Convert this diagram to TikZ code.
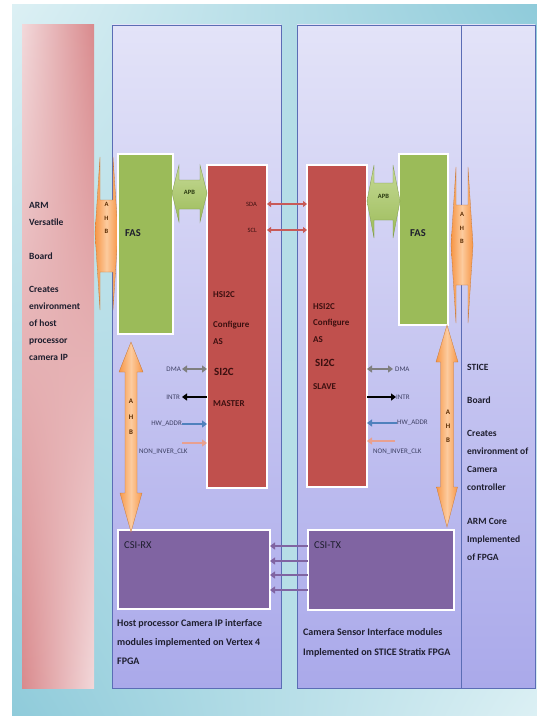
\documentclass[tikz,border=0pt]{standalone}
\usepackage{fontspec}
\setmainfont{Carlito}
\usetikzlibrary{arrows.meta,positioning,calc,shadings}
\definecolor{cyanlight}{HTML}{DCF0F4}
\definecolor{cyandark}{HTML}{8FCBDA}
\definecolor{pinklight}{HTML}{F2D8DA}
\definecolor{pinkdark}{HTML}{D98A8D}
\definecolor{paneltop}{HTML}{E3E3F8}
\definecolor{panelbottom}{HTML}{AAA9EA}
\definecolor{panelline}{HTML}{5B6DB5}
\definecolor{fasgreen}{HTML}{9BBB59}
\definecolor{i2cred}{HTML}{C0504D}
\definecolor{csipurple}{HTML}{8064A2}
\definecolor{ahborange}{HTML}{F79646}
\definecolor{ahblight}{HTML}{FCCB9E}
\definecolor{apblight}{HTML}{C6DA96}
\definecolor{inktext}{HTML}{1E1E2E}
\definecolor{i2cink}{HTML}{3C1010}
\definecolor{ahbink}{HTML}{5A2A00}
\definecolor{apbink}{HTML}{2A3A10}
\definecolor{siggray}{HTML}{7F7F7F}
\definecolor{sigblue}{HTML}{4F81BD}
\definecolor{sigpink}{HTML}{E8A090}
\definecolor{sdared}{HTML}{C85A58}
\definecolor{labelgray}{HTML}{3E4064}
\begin{document}
\begin{tikzpicture}[x=1pt,y=-1pt,
  >={Triangle[length=5pt,width=7pt]},
  panel/.style={draw=panelline,line width=0.8pt,top color=paneltop,bottom color=panelbottom},
  block/.style={draw=white,line width=2pt,inner sep=0pt,outer sep=0pt},
  fasbox/.style={block,fill=fasgreen},
  i2cbox/.style={block,fill=i2cred},
  csibox/.style={block,fill=csipurple},
  boardtext/.style={anchor=north west,inner sep=0pt,align=left,text=inktext,
    font=\bfseries\fontsize{9.5}{17}\selectfont},
  captext/.style={anchor=north west,inner sep=0pt,align=left,text=inktext,
    font=\bfseries\fontsize{10}{19}\selectfont},
  i2ctext/.style={anchor=west,inner sep=0pt,text=i2cink,font=\bfseries\fontsize{9}{10}\selectfont},
  fastext/.style={anchor=west,inner sep=0pt,text=inktext,font=\bfseries\fontsize{10.5}{12}\selectfont},
  csitext/.style={anchor=west,inner sep=0pt,text=inktext,font=\fontsize{10.5}{12}\selectfont},
  siglabel/.style={inner sep=0pt,text=labelgray,font=\fontsize{7}{8}\selectfont},
  buslabel/.style={inner sep=0pt,align=center,font=\bfseries\fontsize{6.5}{13.5}\selectfont},
  ahbarrow/.style={left color=ahborange,right color=ahborange,middle color=ahblight,
    draw=ahborange!80!black,line width=0.3pt},
  apbarrow/.style={top color=apblight,bottom color=fasgreen,draw=fasgreen!80!black,line width=0.3pt},
  sigline/.style={line width=2pt},
  dmaarr/.style={sigline,<->,siggray},
  intrarr/.style={sigline,->,black},
  addrarr/.style={sigline,->,sigblue},
  clkarr/.style={sigline,->,sigpink},
  sdaarr/.style={<->,line width=1.5pt,sdared,>={Triangle[length=4pt,width=6pt]}},
  csiarr/.style={->,line width=2.5pt,csipurple}
]
\useasboundingbox (0,0) rectangle (537,717);
% background and boards
\shade[upper left=cyanlight,upper right=cyandark,lower left=cyandark,lower right=cyanlight]
  (12,5) rectangle (537,715);
\shade[upper left=pinklight,upper right=pinkdark,lower left=pinkdark,lower right=pinklight]
  (22,25) rectangle (94,688);
\path[panel] (112,25) rectangle (281,688);
\path[panel] (297,25) rectangle (535,688);
\draw[panelline,line width=0.8pt] (461,25) -- (461,688);

% AHB links to the boards
\path[ahbarrow] (95,233) -- (100,157) -- (100,200) -- (113,200) -- (113,157) -- (118,233)
  -- (113,310) -- (113,272) -- (100,272) -- (100,310) -- cycle;
\node[buslabel,text=ahbink] (ahbL) at (106.5,218) {A\\H\\B};
\path[ahbarrow] (451,245) -- (456,167) -- (456,205) -- (468,205) -- (468,167) -- (473,245)
  -- (468,323) -- (468,285) -- (456,285) -- (456,323) -- cycle;
\node[buslabel,text=ahbink] (ahbR) at (462,228) {A\\H\\B};

% blocks
\node[fasbox,minimum width=55,minimum height=180] (fasL) at (145.5,244) {};
\node[i2cbox,minimum width=60,minimum height=323] (master) at (237,326.5) {};
\node[i2cbox,minimum width=60,minimum height=322] (slave) at (337,326) {};
\node[fasbox,minimum width=49,minimum height=171] (fasR) at (423.5,239.5) {};
\node[csibox,minimum width=152,minimum height=79] (csirx) at (194,569.5) {};
\node[csibox,minimum width=146,minimum height=80] (csitx) at (381,570) {};

\node[fastext] (fasLt) at (125,233) {FAS};
\node[fastext] (fasRt) at (410,233) {FAS};
\node[csitext] (csirxt) at (124,545) {CSI-RX};
\node[csitext] (csitxt) at (314,545) {CSI-TX};

\node[i2ctext] (mHsi) at (213,295) {HSI2C};
\node[i2ctext] (mCfg) at (213,325) {Configure};
\node[i2ctext] (mAs) at (213,342) {AS};
\node[i2ctext,font=\bfseries\fontsize{11}{12}\selectfont] (mSi) at (214,372) {SI2C};
\node[i2ctext] (mRole) at (213,404) {MASTER};
\node[i2ctext] (sHsi) at (313,307) {HSI2C};
\node[i2ctext] (sCfg) at (313,323) {Configure};
\node[i2ctext] (sAs) at (313,340) {AS};
\node[i2ctext,font=\bfseries\fontsize{11}{12}\selectfont] (sSi) at (315,363) {SI2C};
\node[i2ctext] (sRole) at (313,387) {SLAVE};

% APB links
\path[apbarrow] (172,193) -- (179,165) -- (179,180) -- (200,180) -- (200,165) -- (207,193)
  -- (200,222) -- (200,209) -- (179,209) -- (179,222) -- cycle;
\node[buslabel,text=apbink] (apbL) at (189.5,192) {APB};
\path[apbarrow] (367,201) -- (374,165) -- (374,183) -- (393,183) -- (393,165) -- (400,201)
  -- (393,238) -- (393,220) -- (374,220) -- (374,238) -- cycle;
\node[buslabel,text=apbink] (apbR) at (383.5,196) {APB};

% I2C bus
\node[siglabel,anchor=east,text=i2cink,font=\fontsize{6.5}{8}\selectfont] (sda) at (257,204) {SDA};
\node[siglabel,anchor=east,text=i2cink,font=\fontsize{6.5}{8}\selectfont] (scl) at (257,230) {SCL};
\draw[sdaarr] (master.east |- sda) -- (slave.west |- sda);
\draw[sdaarr] (master.east |- scl) -- (slave.west |- scl);

% master side signals
\node[siglabel,anchor=east] (dmaL) at (181,369) {DMA};
\node[siglabel,anchor=east] (intrL) at (180,397) {INTR};
\node[siglabel,anchor=east] (addrL) at (182,424) {HW\_ADDR};
\node[siglabel,anchor=west] (clkL) at (139,452) {NON\_INVER\_CLK};
\coordinate (clkLs) at (182,443);
\draw[dmaarr] ([xshift=1pt]dmaL.east) -- (master.west |- dmaL);
\draw[intrarr] (master.west |- intrL) -- ([xshift=2pt]intrL.east);
\draw[addrarr] (addrL.east) -- (master.west |- addrL);
\draw[clkarr] (clkLs) -- (master.west |- clkLs);

% slave side signals
\node[siglabel,anchor=west] (dmaR) at (395,369) {DMA};
\node[siglabel,anchor=west] (intrR) at (396,397) {INTR};
\node[siglabel,anchor=west] (addrR) at (397,423) {HW\_ADDR};
\node[siglabel,anchor=west] (clkR) at (373,452) {NON\_INVER\_CLK};
\coordinate (clkRs) at (395,441);
\draw[dmaarr] (slave.east |- dmaR) -- ([xshift=-2pt]dmaR.west);
\draw[intrarr] (slave.east |- intrR) -- (intrR.west);
\draw[addrarr] (addrR.west) -- (slave.east |- addrR);
\draw[clkarr] (clkRs) -- (slave.east |- clkRs);

% CSI lanes
\foreach \y in {546,561,575,590}
  \draw[csiarr] (csitx.west |- 0,\y) -- (csirx.east |- 0,\y);

% AHB between FAS and CSI
\path[ahbarrow] (131,342) -- (143,372) -- (137,372) -- (137,493) -- (142,493) -- (131,532)
  -- (120,493) -- (125,493) -- (125,372) -- (119,372) -- cycle;
\node[buslabel,text=ahbink,font=\bfseries\fontsize{7}{15.5}\selectfont] (ahbLv) at (131,417) {A\\H\\B};
\path[ahbarrow] (447,325) -- (458,362) -- (453.5,362) -- (453.5,487) -- (457.5,487) -- (447,527)
  -- (436.5,487) -- (440.5,487) -- (440.5,362) -- (436,362) -- cycle;
\node[buslabel,text=ahbink,font=\bfseries\fontsize{7}{14}\selectfont] (ahbRv) at (448,426) {A\\H\\B};

% board texts
\node[boardtext] (armtext) at (29,202) {ARM\\Versatile\\[17pt]Board\\[16pt]Creates\\environment\\of host\\processor\\camera IP};
\node[boardtext,font=\bfseries\fontsize{9.5}{18}\selectfont] (sticetext) at (467,364)
  {STICE\\[15pt]Board\\[15pt]Creates\\environment of\\Camera\\controller\\[16pt]ARM Core\\Implemented\\of FPGA};
\node[captext] (hostcap) at (117,619) {Host processor Camera IP interface\\modules implemented on Vertex 4\\FPGA};
\node[captext,font=\bfseries\fontsize{10}{20}\selectfont] (sensorcap) at (303,628)
  {Camera Sensor Interface modules\\Implemented on STICE Stratix FPGA};
\end{tikzpicture}
\end{document}
